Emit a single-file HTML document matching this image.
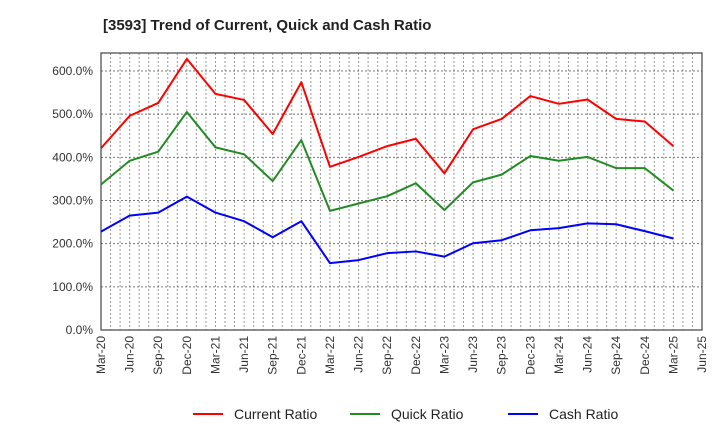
<!DOCTYPE html>
<html><head><meta charset="utf-8"><style>
body{margin:0;background:#fff;font-family:"Liberation Sans",Arial,sans-serif}
svg text{font-family:"Liberation Sans",Arial,sans-serif}
</style></head><body>
<svg id="c" width="720" height="440" xmlns="http://www.w3.org/2000/svg">
<text x="103" y="30" font-size="15" font-weight="bold" fill="#222">[3593]  Trend of Current, Quick and Cash Ratio</text>
</svg>
<script>
const xLabels=["Mar-20","Jun-20","Sep-20","Dec-20","Mar-21","Jun-21","Sep-21","Dec-21","Mar-22","Jun-22","Sep-22","Dec-22","Mar-23","Jun-23","Sep-23","Dec-23","Mar-24","Jun-24","Sep-24","Dec-24","Mar-25","Jun-25"];
const yTicks=[0,100,200,300,400,500,600];
const currentRatio=[421,496,526,628,547,533,454,574,378,401,426,443,363,465,489,542,524,534,489,483,426];
const quickRatio=[337,392,413,505,423,407,345,440,276,293,310,340,278,342,360,403,392,401,375,375,323];
const cashRatio=[228,265,272,309,272,252,215,252,155,162,178,182,170,201,208,231,236,247,245,229,212];
const svg=document.getElementById('c');const NS='http://www.w3.org/2000/svg';
const L=101,R=702,T=53,B=330;
const xs=i=>L+i*(R-L)/(xLabels.length-1);
const ys=v=>B-v*(B-71)/600;
function mk(t,a,p){const e=document.createElementNS(NS,t);for(const k in a)e.setAttribute(k,a[k]);(p||svg).appendChild(e);return e;}
const grid=mk('g',{});


for(let m=0;m<=63;m++){const x=L+m*(R-L)/63;mk('line',{x1:x,x2:x,y1:T,y2:B,stroke:'#999','stroke-dasharray':'2,2','stroke-width':1},grid);}
yTicks.forEach(v=>{mk('line',{x1:L,x2:R,y1:ys(v),y2:ys(v),stroke:'#777','stroke-dasharray':'2,2','stroke-width':1},grid);
const t=mk('text',{x:L-8,y:ys(v)+4,'font-size':12,'text-anchor':'end',fill:'#333'});t.textContent=v.toFixed(1)+'%';

});
xLabels.forEach((s,i)=>{const x=xs(i);const t=mk('text',{x:0,y:0,'font-size':12,'text-anchor':'end',fill:'#333',transform:`translate(${x+4},${B+6}) rotate(-90)`});t.textContent=s;

});
const fr=mk('rect',{x:L,y:T,width:R-L,height:B-T,fill:'none',stroke:'#444','stroke-width':1.2});


function series(d,c,n){const p=mk('polyline',{points:d.map((v,i)=>xs(i)+','+ys(v)).join(' '),fill:'none',stroke:c,'stroke-width':2,'stroke-linejoin':'round'});

}
series(currentRatio,'#ff0000','current-ratio-line');
series(quickRatio,'#228b22','quick-ratio-line');
series(cashRatio,'#0000ff','cash-ratio-line');
[["Current Ratio","#ff0000",193],["Quick Ratio","#228b22",350],["Cash Ratio","#0000ff",508]].forEach(([n,c,x])=>{
const g=mk('g',{});


mk('line',{x1:x,x2:x+30,y1:414,y2:414,stroke:c,'stroke-width':2},g);
const t=mk('text',{x:x+41,y:419,'font-size':14,fill:'#222'},g);t.textContent=n;});
</script>
</body></html>
